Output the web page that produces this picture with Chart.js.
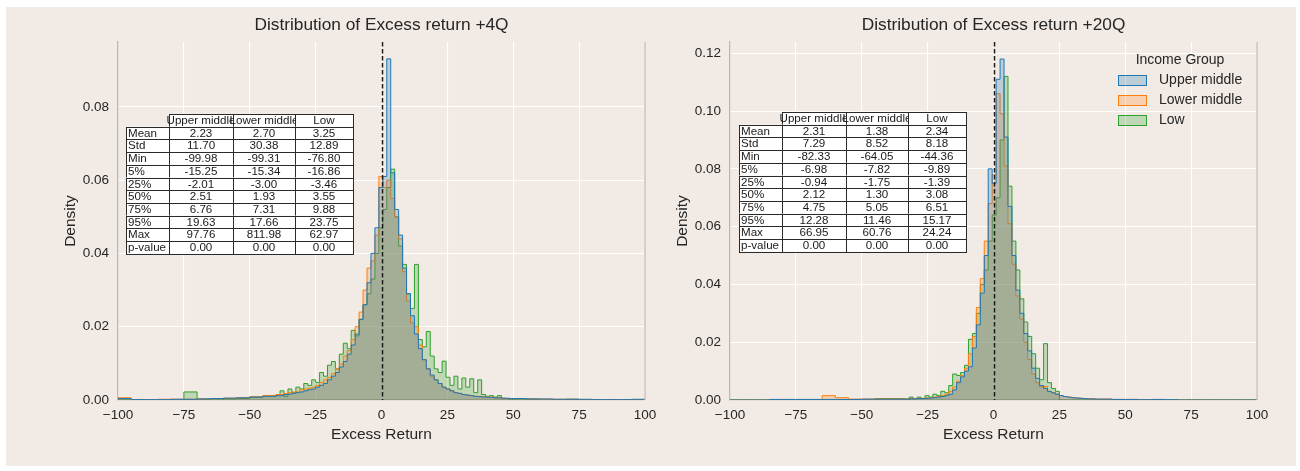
<!DOCTYPE html>
<html>
<head>
<meta charset="utf-8">
<script src="https://cdn.jsdelivr.net/npm/chart.js@4.4.1/dist/chart.umd.min.js"></script>
<style>
  html, body { margin: 0; padding: 0; background: #fff; }
  #fig { position: absolute; left: 6px; top: 7px; width: 1290px; height: 459px; background: #f2eae4; }
  #fig canvas { position: absolute; top: 0; }
  #c4 { left: 0; }
  #c20 { left: 650px; }
</style>
</head>
<body>
<div id="fig">
  <canvas id="c4" width="680" height="459"></canvas>
  <canvas id="c20" width="640" height="459"></canvas>
</div>
<script>
const FONT = "'Liberation Sans', Arial, sans-serif";
const INK = '#262626';
const SPINE = '#bdb7b2';

const groups = ['Upper middle', 'Lower middle', 'Low'];
const groupColors = ['#1f77b4', '#ff7f0e', '#2ca02c'];
const groupFills = ['rgba(31,119,180,0.25)', 'rgba(255,127,14,0.25)', 'rgba(44,160,44,0.25)'];

const xTicks = [-100, -75, -50, -25, 0, 25, 50, 75, 100];
const xTickLabels = ['\u2212100', '\u221275', '\u221250', '\u221225', '0', '25', '50', '75', '100'];
const q4YTicks = [0, 0.02, 0.04, 0.06, 0.08];
const q4YTickLabels = ['0.00', '0.02', '0.04', '0.06', '0.08'];
const q20YTicks = [0, 0.02, 0.04, 0.06, 0.08, 0.10, 0.12];
const q20YTickLabels = ['0.00', '0.02', '0.04', '0.06', '0.08', '0.10', '0.12'];

// histogram bins: [first edge, width, count] per segment (coarse tails, fine core)
const q4Bins = [[-100, 5, 12], [-40, 1.5, 60], [50, 5, 10]];
const q20Bins = [[-100, 5, 13], [-35, 1.5, 50], [40, 5, 12]];

// densities per bin, +4Q
const q4Upper = [
  0.0004, 0.0001, 0.0001, 0.0001, 0.0002, 0.0002, 0.0003, 0.0004, 0.0005, 0.0006, 0.0008, 0.001,
  0.0012, 0.0012, 0.0015, 0.0016, 0.0018, 0.002, 0.0022, 0.0025, 0.0028, 0.003,
  0.0035, 0.004, 0.0045, 0.0055, 0.0065, 0.0075, 0.009, 0.0105, 0.0125, 0.015,
  0.018, 0.022, 0.026, 0.032, 0.04, 0.047, 0.058, 0.061, 0.0931, 0.062,
  0.052, 0.045, 0.036, 0.029, 0.023, 0.018, 0.014, 0.011, 0.0085, 0.0068,
  0.0055, 0.0045, 0.0035, 0.003, 0.0025, 0.002, 0.0018, 0.0015, 0.0013, 0.0012,
  0.001, 0.0009, 0.0008, 0.0008, 0.0007, 0.0006, 0.0006, 0.0005, 0.0005, 0.0004,
  0.0004, 0.0003, 0.0003, 0.0002, 0.0002, 0.0002, 0.0001, 0.0001, 0.0001, 0.0002
];
const q4Lower = [
  0.0006, 0.0001, 0.0001, 0.0002, 0.0002, 0.0002, 0.0003, 0.0004, 0.0005, 0.0006, 0.0009, 0.0012,
  0.0015, 0.0015, 0.0018, 0.002, 0.0022, 0.0022, 0.0028, 0.003, 0.0032, 0.0035,
  0.004, 0.0048, 0.0055, 0.0062, 0.0072, 0.0085, 0.0098, 0.012, 0.0135, 0.0165,
  0.02, 0.024, 0.03, 0.036, 0.038, 0.045, 0.061, 0.058, 0.06, 0.055,
  0.05, 0.044, 0.035, 0.027, 0.021, 0.02, 0.015, 0.011, 0.0085, 0.0065,
  0.0055, 0.0045, 0.0035, 0.003, 0.0025, 0.002, 0.0018, 0.0015, 0.0014, 0.0012,
  0.001, 0.001, 0.0009, 0.0008, 0.0008, 0.0006, 0.0006, 0.0005, 0.0004, 0.0004,
  0.0004, 0.0003, 0.0002, 0.0002, 0.0002, 0.0001, 0.0001, 0.0001, 0.0001, 0.0001
];
const q4Low = [
  0, 0, 0, 0, 0, 0.0022, 0.0002, 0, 0.0003, 0.0004, 0.0008, 0.0012,
  0.0015, 0.0025, 0.001, 0.003, 0.002, 0.0035, 0.003, 0.0045, 0.004, 0.0055,
  0.0048, 0.0075, 0.0065, 0.0095, 0.0105, 0.0085, 0.0125, 0.0155, 0.014, 0.019,
  0.0175, 0.022, 0.026, 0.029, 0.033, 0.04, 0.047, 0.052, 0.058, 0.063,
  0.05, 0.042, 0.037, 0.029, 0.025, 0.037, 0.0165, 0.0145, 0.0187, 0.012,
  0.0085, 0.0075, 0.0106, 0.0062, 0.004, 0.0065, 0.003, 0.006, 0.0035, 0.0058,
  0.002, 0.0055, 0.0015, 0.001, 0.0012, 0.0008, 0.0012, 0.0004, 0.0004, 0,
  0.0003, 0.0002, 0, 0, 0.0002, 0, 0, 0, 0, 0
];

// densities per bin, +20Q
const q20Upper = [
  0, 0, 0, 0.0002, 0.0002, 0.0002, 0.0002, 0.0002, 0.0002, 0.0002, 0.0003, 0.0003, 0.0003,
  0.0003, 0.0003, 0.0004, 0.0004, 0.0005, 0.0005, 0.0006, 0.0007, 0.0008, 0.001,
  0.0012, 0.0015, 0.002, 0.0035, 0.006, 0.008, 0.01, 0.0115, 0.018, 0.026,
  0.037, 0.05, 0.08, 0.075, 0.111, 0.118, 0.091, 0.067, 0.05, 0.038,
  0.03, 0.023, 0.017, 0.011, 0.0075, 0.005, 0.004, 0.003, 0.0025, 0.002,
  0.0015, 0.0012, 0.001, 0.0008, 0.0007, 0.0006, 0.0005, 0.0004, 0.0004, 0.0003,
  0.0003, 0.0002, 0.0002, 0.0001, 0.0002, 0.0001, 0, 0, 0, 0, 0, 0
];
const q20Lower = [
  0, 0, 0, 0, 0, 0, 0, 0.0015, 0.0008, 0.0003, 0.0003, 0.0004, 0.0004,
  0.0004, 0.0004, 0.0005, 0.0005, 0.0006, 0.0006, 0.0007, 0.0008, 0.001, 0.0012,
  0.0015, 0.002, 0.003, 0.0045, 0.0065, 0.0085, 0.011, 0.016, 0.022, 0.032,
  0.042, 0.055, 0.068, 0.078, 0.106, 0.099, 0.081, 0.061, 0.047, 0.036,
  0.028, 0.02, 0.014, 0.009, 0.006, 0.0045, 0.0047, 0.003, 0.0025, 0.002,
  0.0015, 0.0012, 0.001, 0.0008, 0.0007, 0.0006, 0.0005, 0.0004, 0.0004, 0.0003,
  0.0003, 0.0002, 0.0002, 0.0001, 0.0001, 0, 0, 0, 0, 0, 0, 0
];
const q20Low = [
  0, 0, 0, 0, 0, 0, 0, 0, 0, 0, 0, 0.0005, 0.0005,
  0.0005, 0, 0.001, 0.0005, 0.001, 0.0005, 0.0015, 0.001, 0.002, 0.0015,
  0.003, 0.0025, 0.005, 0.009, 0.0085, 0.0095, 0.012, 0.021, 0.023, 0.03,
  0.04, 0.045, 0.055, 0.064, 0.07, 0.09, 0.112, 0.074, 0.055, 0.045,
  0.035, 0.027, 0.022, 0.016, 0.011, 0.007, 0.0195, 0.006, 0.004, 0.003,
  0, 0, 0, 0, 0, 0, 0, 0, 0, 0,
  0, 0, 0, 0, 0, 0, 0, 0, 0, 0, 0, 0
];

// summary table values
const statRows = ['Mean', 'Std', 'Min', '5%', '25%', '50%', '75%', '95%', 'Max', 'p-value'];
const q4StatsUpper = [2.23, 11.70, -99.98, -15.25, -2.01, 2.51, 6.76, 19.63, 97.76, 0.00];
const q4StatsLower = [2.70, 30.38, -99.31, -15.34, -3.00, 1.93, 7.31, 17.66, 811.98, 0.00];
const q4StatsLow = [3.25, 12.89, -76.80, -16.86, -3.46, 3.55, 9.88, 23.75, 62.97, 0.00];
const q20StatsUpper = [2.31, 7.29, -82.33, -6.98, -0.94, 2.12, 4.75, 12.28, 66.95, 0.00];
const q20StatsLower = [1.38, 8.52, -64.05, -7.82, -1.75, 1.30, 5.05, 11.46, 60.76, 0.00];
const q20StatsLow = [2.34, 8.18, -44.36, -9.89, -1.39, 3.08, 6.51, 15.17, 24.24, 0.00];

function edgesFrom(segs) {
  const e = [];
  segs.forEach(([start, w, n]) => { for (let i = 0; i < n; i++) e.push(start + i * w); });
  const last = segs[segs.length - 1];
  e.push(last[0] + last[1] * last[2]);
  return e;
}

// left-edge points for a 'before' stepped line, closed down to zero at both ends
function stepPoints(edges, dens) {
  const pts = [{ x: edges[0], y: 0 }];
  dens.forEach((d, i) => pts.push({ x: edges[i], y: d }));
  pts.push({ x: edges[dens.length], y: 0 });
  return pts;
}

function drawTable(ctx, x0, y0, cols) {
  const colW = [43, 64, 62, 58];
  const rowH = 12.7;
  ctx.save();
  ctx.font = `11.6px ${FONT}`;
  ctx.textBaseline = 'middle';
  ctx.lineWidth = 1;
  ctx.strokeStyle = '#2a2a2a';
  const cell = (x, y, w, text, align) => {
    ctx.fillStyle = '#ffffff';
    ctx.fillRect(x, y, w, rowH);
    ctx.strokeRect(Math.round(x) + 0.5, Math.round(y) + 0.5, Math.round(w), Math.round(rowH));
    ctx.fillStyle = '#1a1a1a';
    ctx.textAlign = align;
    ctx.fillText(text, align === 'left' ? x + 2 : x + w / 2, y + rowH / 2 + 0.5);
  };
  let x = x0 + colW[0];
  groups.forEach((g, j) => { cell(x, y0, colW[j + 1], g, 'center'); x += colW[j + 1]; });
  statRows.forEach((lab, r) => {
    const y = y0 + rowH * (r + 1);
    cell(x0, y, colW[0], lab, 'left');
    let cx = x0 + colW[0];
    cols.forEach((col, j) => { cell(cx, y, colW[j + 1], col[r].toFixed(2), 'center'); cx += colW[j + 1]; });
  });
  ctx.restore();
}

function drawLegend(ctx, ca) {
  ctx.save();
  ctx.font = `14px ${FONT}`;
  ctx.fillStyle = INK;
  ctx.textAlign = 'center';
  ctx.textBaseline = 'middle';
  ctx.fillText('Income Group', ca.right - 77, ca.top + 18);
  groups.forEach((g, i) => {
    const cy = ca.top + 38 + i * 20;
    const px = ca.right - 139;
    ctx.fillStyle = groupFills[i];
    ctx.fillRect(px, cy - 5, 29, 10);
    ctx.strokeStyle = groupColors[i];
    ctx.lineWidth = 1;
    ctx.strokeRect(px + 0.5, Math.round(cy - 5) + 0.5, 28, 10);
    ctx.fillStyle = INK;
    ctx.textAlign = 'left';
    ctx.fillText(g, ca.right - 98, cy + 0.5);
  });
  ctx.restore();
}

function decorPlugin(cfg) {
  return {
    id: 'decor',
    afterDatasetsDraw(chart) {
      const { ctx, chartArea: ca, scales } = chart;
      // zero reference line
      const x0 = Math.round(scales.x.getPixelForValue(0)) + 0.5;
      ctx.save();
      ctx.strokeStyle = '#1a1a1a';
      ctx.lineWidth = 1.5;
      ctx.setLineDash([4.5, 2.5]);
      ctx.beginPath();
      ctx.moveTo(x0, ca.top);
      ctx.lineTo(x0, ca.bottom);
      ctx.stroke();
      ctx.restore();
    },
    afterDraw(chart) {
      const { ctx, chartArea: ca } = chart;
      ctx.save();
      // right spine
      ctx.strokeStyle = SPINE;
      ctx.lineWidth = 1.25;
      ctx.beginPath();
      ctx.moveTo(ca.right, ca.top);
      ctx.lineTo(ca.right, ca.bottom);
      ctx.stroke();
      // titles
      ctx.fillStyle = INK;
      ctx.textAlign = 'center';
      ctx.textBaseline = 'middle';
      ctx.font = `17.3px ${FONT}`;
      ctx.fillText(cfg.title, (ca.left + ca.right) / 2, ca.top - 17);
      ctx.font = `15.5px ${FONT}`;
      ctx.fillText('Excess Return', (ca.left + ca.right) / 2, ca.bottom + 35);
      ctx.translate(ca.left - 47, (ca.top + ca.bottom) / 2);
      ctx.rotate(-Math.PI / 2);
      ctx.fillText('Density', 0, 0);
      ctx.restore();
      drawTable(ctx, ca.left + cfg.tableDx, ca.top + cfg.tableDy, cfg.stats);
      if (cfg.legend) drawLegend(ctx, ca);
    }
  };
}

function makeChart(id, cfg) {
  const edges = edgesFrom(cfg.bins);
  const datasets = cfg.series.map((dens, i) => ({
    label: groups[i],
    data: stepPoints(edges, dens),
    stepped: 'before',
    borderColor: groupColors[i],
    backgroundColor: groupFills[i],
    borderWidth: 1,
    fill: 'origin',
    pointRadius: 0,
    tension: 0
  }));
  const tickFont = { family: FONT, size: 13.5 };
  return new Chart(document.getElementById(id), {
    type: 'line',
    data: { datasets },
    options: {
      responsive: false,
      animation: false,
      devicePixelRatio: 1,
      layout: { padding: { top: 35, right: cfg.padRight, left: 0, bottom: 0 } },
      plugins: { legend: { display: false }, tooltip: { enabled: false } },
      scales: {
        x: {
          type: 'linear', min: -100, max: 100,
          afterBuildTicks: s => { s.ticks = xTicks.map(v => ({ value: v })); },
          afterFit: s => { s.height = 66; },
          grid: { color: '#ffffff', lineWidth: 1.1, drawTicks: false },
          border: { display: true, color: SPINE, width: 1.25 },
          ticks: { color: INK, font: tickFont, padding: 7, maxRotation: 0, autoSkip: false,
                   callback: (v, i) => xTickLabels[i] }
        },
        y: {
          type: 'linear', min: 0, max: cfg.ymax,
          afterBuildTicks: s => { s.ticks = cfg.yTicks.map(v => ({ value: v })); },
          afterFit: s => { s.width = cfg.yWidth; },
          grid: { color: '#ffffff', lineWidth: 1.1, drawTicks: false },
          border: { display: true, color: SPINE, width: 1.25 },
          ticks: { color: INK, font: tickFont, padding: 9, callback: (v, i) => cfg.yTickLabels[i] }
        }
      }
    },
    plugins: [decorPlugin(cfg)]
  });
}

makeChart('c4', {
  title: 'Distribution of Excess return +4Q',
  bins: q4Bins,
  series: [q4Upper, q4Lower, q4Low],
  stats: [q4StatsUpper, q4StatsLower, q4StatsLow],
  ymax: 0.0977, yTicks: q4YTicks, yTickLabels: q4YTickLabels,
  yWidth: 112, padRight: 41,
  tableDx: 8, tableDy: 72, legend: false
});

makeChart('c20', {
  title: 'Distribution of Excess return +20Q',
  bins: q20Bins,
  series: [q20Upper, q20Lower, q20Low],
  stats: [q20StatsUpper, q20StatsLower, q20StatsLow],
  ymax: 0.1239, yTicks: q20YTicks, yTickLabels: q20YTickLabels,
  yWidth: 74, padRight: 39,
  tableDx: 9, tableDy: 70, legend: true
});
</script>
</body>
</html>
